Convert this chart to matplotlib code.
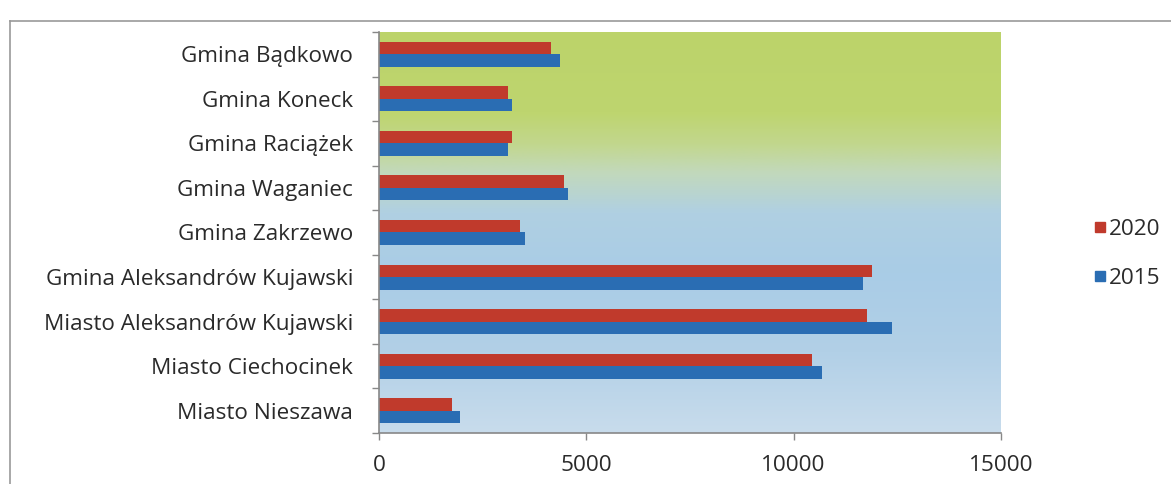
import numpy as np
import matplotlib
matplotlib.use("Agg")
import matplotlib.pyplot as plt
from matplotlib.colors import LinearSegmentedColormap
from matplotlib.lines import Line2D

categories = ["Gmina Bądkowo", "Gmina Koneck", "Gmina Raciążek", "Gmina Waganiec",
              "Gmina Zakrzewo", "Gmina Aleksandrów Kujawski", "Miasto Aleksandrów Kujawski",
              "Miasto Ciechocinek", "Miasto Nieszawa"]
values_2020 = [4140, 3120, 3200, 4470, 3390, 11900, 11770, 10440, 1770]
values_2015 = [4370, 3200, 3110, 4560, 3530, 11670, 12380, 10690, 1950]
series_labels = ["2020", "2015"]
x_ticks = [0, 5000, 10000, 15000]

W, H = 1171, 484
fig = plt.figure(figsize=(W / 100, H / 100), dpi=100)
plt.rcParams['font.family'] = ['Open Sans', 'DejaVu Sans']
FS = 16.2
TXT = "#2a2a2a"

ax = fig.add_axes([379 / W, 1 - 433 / H, (1001 - 379) / W, (433 - 32) / H])

n = len(categories)
y = np.arange(n)
h = 0.28
red = "#C03A2C"
blue = "#2A6DB3"

# gradient background
cmap = LinearSegmentedColormap.from_list(
    "bg", [(0.0, "#BCD36A"), (0.2, "#BED56F"), (0.28, "#C2D78E"), (0.35, "#C2D9BC"),
           (0.45, "#B0D0E2"), (0.6, "#A9CCE6"), (0.8, "#B2D0E7"), (1.0, "#C8DCEC")])
grad = np.linspace(0, 1, 256).reshape(-1, 1)
ax.imshow(grad, cmap=cmap, aspect="auto", extent=[0, 15000, n - 0.5, -0.5],
          zorder=0, interpolation="bicubic")

ax.barh(y - h / 2, values_2020, height=h, color=red, zorder=2, label=series_labels[0])
ax.barh(y + h / 2, values_2015, height=h, color=blue, zorder=2, label=series_labels[1])

ax.set_xlim(0, 15000)
ax.set_ylim(n - 0.5, -0.5)
ax.set_xticks(x_ticks)
ax.set_xticklabels([str(t) for t in x_ticks], fontsize=FS, color=TXT)
ax.tick_params(axis="x", length=5, width=1, color="#888888", pad=11)
ax.set_yticks(y)
ax.set_yticklabels(categories, fontsize=FS, color=TXT)
ax.tick_params(axis="y", which="major", length=0, pad=18.7)
ax.set_yticks(np.arange(-0.5, n, 1.0), minor=True)
ax.tick_params(axis="y", which="minor", length=5, width=1, color="#888888")

for s in ["top", "right"]:
    ax.spines[s].set_visible(False)
for s in ["left", "bottom"]:
    ax.spines[s].set_color("#888888")
    ax.spines[s].set_linewidth(1.2)

# legend
handles = [Line2D([], [], marker="s", linestyle="none", markersize=7, color=red),
           Line2D([], [], marker="s", linestyle="none", markersize=7, color=blue)]
leg = fig.legend(handles, series_labels, loc="center left",
                 bbox_to_anchor=(1083 / W, 1 - 254 / H), frameon=False,
                 fontsize=FS, handlelength=0.5, handletextpad=0.15, labelspacing=1.25,
                 borderpad=0)
for t in leg.get_texts():
    t.set_color(TXT)

# outer frame
fig.add_artist(Line2D([10 / W, 1.0], [1 - 21 / H, 1 - 21 / H], color="#999999", lw=1.2))
fig.add_artist(Line2D([10 / W, 10 / W], [1 - 21 / H, 0.0], color="#999999", lw=1.2))

fig.savefig("out.png", dpi=100)
